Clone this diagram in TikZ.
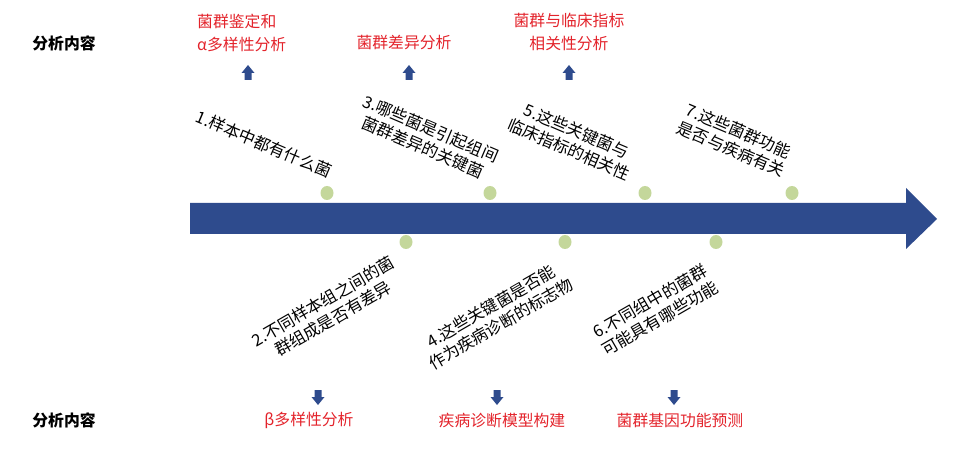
\documentclass[tikz,border=0pt]{standalone}
\usepackage{fontspec}
\setmainfont{Noto Sans CJK SC}
\definecolor{axisblue}{HTML}{2E4B8D}
\definecolor{dotgreen}{HTML}{C4D79B}
\definecolor{resred}{HTML}{E3232B}

\begin{document}
\begin{tikzpicture}[x=0.03cm, y=-0.03cm,
    question/.style={font=\fontsize{14}{17}\selectfont, align=center, inner sep=0pt},
    result/.style={text=resred, font=\fontsize{13.5}{20}\selectfont, inner sep=0pt},
    heading/.style={font=\fontsize{13.5}{16}\selectfont\bfseries, inner sep=0pt}]
    \useasboundingbox (0,0) rectangle (963,461);

    % Hauptpfeil
    \fill[axisblue] (190,203) -- (906,203) -- (906,188) -- (937,219)
        -- (906,249) -- (906,234) -- (190,234) -- cycle;

    % Punkte oben und unten
    \foreach \x in {327,490,645,792}
        \fill[dotgreen] (\x,193) ellipse (6.5 and 7);
    \foreach \x in {406,565,716}
        \fill[dotgreen] (\x,242) ellipse (6.5 and 7);

    % Fragen oberhalb
    \node[question, rotate=-23] (q1) at (264,144) {1.样本中都有什么菌};
    \node[question, rotate=-23] (q3) at (427,138) {3.哪些菌是引起组间\\菌群差异的关键菌};
    \node[question, rotate=-23] (q5) at (573,140) {5.这些关键菌与\\临床指标的相关性};
    \node[question, rotate=-23] (q7) at (735,140) {7.这些菌群功能\\是否与疾病有关};

    % Fragen unterhalb
    \node[question, rotate=30] (q2) at (328,310) {2.不同样本组之间的菌\\群组成是否有差异};
    \node[question, rotate=30] (q4) at (496,315) {4.这些关键菌是否能\\作为疾病诊断的标志物};
    \node[question, rotate=30] (q6) at (655,310) {6.不同组中的菌群\\可能具有哪些功能};

    % kleine Pfeile
    \foreach \x in {248,409,569}
        \fill[axisblue] (\x,65) -- ++(6.5,8) -- ++(-3,0) -- ++(0,7) -- ++(-7,0)
            -- ++(0,-7) -- ++(-3,0) -- cycle;
    \foreach \x in {318,497,674}
        \fill[axisblue] (\x,405) -- ++(6.5,-8) -- ++(-3,0) -- ++(0,-7) -- ++(-7,0)
            -- ++(0,7) -- ++(-3,0) -- cycle;

    % Analyseinhalte
    \node[heading] (top) at (64,43) {分析内容};
    \node[heading] (bottom) at (64,420) {分析内容};

    \node[result, align=left, anchor=west] (r1) at (197,33) {菌群鉴定和\\α多样性分析};
    \node[result] (r3) at (404,43) {菌群差异分析};
    \node[result, align=center] (r5) at (569,32) {菌群与临床指标\\相关性分析};

    \node[result] (r2) at (309,420) {β多样性分析};
    \node[result] (r4) at (502,420) {疾病诊断模型构建};
    \node[result] (r6) at (680,420) {菌群基因功能预测};
\end{tikzpicture}
\end{document}
